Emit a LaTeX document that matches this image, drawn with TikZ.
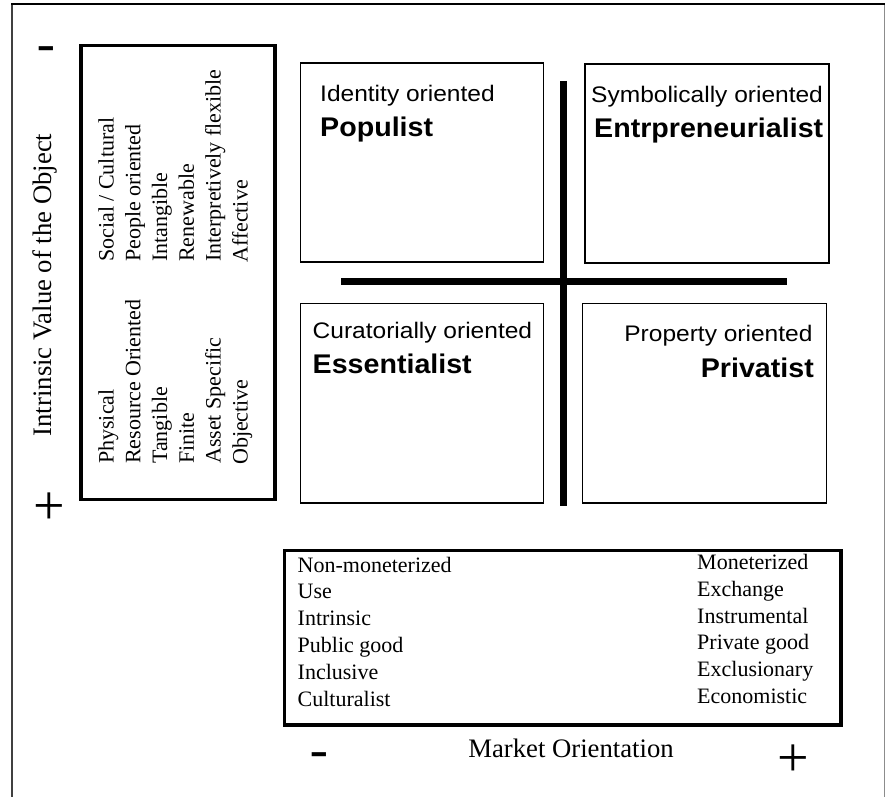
\documentclass[tikz,border=0pt]{standalone}
\usepackage{fontspec}
\usepackage{graphicx}
\setmainfont{Liberation Serif}
\newfontfamily\arialf{Liberation Sans}
\begin{document}
\begin{tikzpicture}[x=1pt,y=-1pt,
  serifA/.style={font=\fontsize{22}{22}\selectfont, inner sep=0pt, anchor=base west},
  rotlabel/.style={serifA, rotate=90},
  axislabel/.style={font=\fontsize{26.7}{26.7}\selectfont, inner sep=0pt, anchor=base},
  qsub/.style={font=\arialf\fontsize{22.5}{22.5}\selectfont, inner sep=0pt},
  qtitle/.style={font=\arialf\bfseries\fontsize{27}{27}\selectfont, inner sep=0pt},
  qbox/.style={draw, line width=1.8pt},
  thickbox/.style={draw, line width=3.6pt},
  crossline/.style={line width=6.5pt},
  signminus/.style={font=\arialf\bfseries\fontsize{34}{34}\selectfont, inner sep=0pt, anchor=base},
  signplus/.style={font=\fontsize{56}{56}\selectfont, inner sep=0pt, anchor=base},
]
\useasboundingbox (0,0) rectangle (886,797);
\fill[white] (0,0) rectangle (886,797);
% outer frame (open at the bottom)
\draw[line width=1.6pt, black!75] (12,797) -- (12,4.5);
\draw[line width=1.2pt, black!45] (884.5,4.5) -- (884.5,797);
\draw[line width=2pt] (11.2,4.5) -- (885,4.5);

% left box
\draw[thickbox] (81,45.5) rectangle (275,499.5);
% quadrant boxes
\draw[qbox] (300.5,63) rectangle (543.5,262);
\draw[qbox] (585,64) rectangle (829,263);
\draw[qbox] (300.5,303.5) rectangle (543.5,503);
\draw[qbox] (582.5,303.5) rectangle (826.5,503);
% cross
\coordinate (vtop) at (563.5,81);
\coordinate (vbot) at (563.5,506);
\coordinate (hleft) at (341,281.5);
\coordinate (hright) at (787,281.5);
\draw[crossline] (vtop) -- (vbot);
\draw[crossline] (hleft) -- (hright);
% bottom box
\draw[thickbox] (284.5,550.5) rectangle (841,725);

% vertical axis label
\node[axislabel, rotate=90] (yaxis) at (51.8,285) {Intrinsic Value of the Object};
\node[signminus] (ymin) at (46,57.7) {\scalebox{1.65}[1]{-}};
\node[signplus] (yplus) at (49,524.2) {+};

% left box texts (upper group)
\node[rotlabel] (l1) at (113.5,262) {Social / Cultural};
\node[rotlabel] (l2) at (140.3,262) {People oriented};
\node[rotlabel] (l3) at (167.1,262) {Intangible};
\node[rotlabel] (l4) at (193.9,262) {Renewable};
\node[rotlabel] (l5) at (220.7,262) {Interpretively flexible};
\node[rotlabel] (l6) at (247.5,263) {Affective};
% left box texts (lower group)
\node[rotlabel] (m1) at (113.5,464) {Physical};
\node[rotlabel] (m2) at (140.3,464) {Resource Oriented};
\node[rotlabel] (m3) at (167.1,464) {Tangible};
\node[rotlabel] (m4) at (193.9,464) {Finite};
\node[rotlabel] (m5) at (220.7,464) {Asset Specific};
\node[rotlabel] (m6) at (247.5,465) {Objective};

% quadrant texts
\node[qsub, anchor=base west] (q1a) at (320,102) {\scalebox{1.09}[1]{Identity oriented}};
\node[qtitle, anchor=base west] (q1b) at (320,137) {\scalebox{1.06}[1]{Populist}};
\node[qsub, anchor=base west] (q2a) at (591,103) {\scalebox{1.09}[1]{Symbolically oriented}};
\node[qtitle, anchor=base west] (q2b) at (594,137.3) {\scalebox{1.06}[1]{Entrpreneurialist}};
\node[qsub, anchor=base west] (q3a) at (312.5,338.3) {\scalebox{1.09}[1]{Curatorially oriented}};
\node[qtitle, anchor=base west] (q3b) at (312.5,373.3) {\scalebox{1.06}[1]{Essentialist}};
\node[qsub, anchor=base east] (q4a) at (812.7,341.7) {\scalebox{1.09}[1]{Property oriented}};
\node[qtitle, anchor=base east] (q4b) at (814,377.3) {\scalebox{1.06}[1]{Privatist}};

% bottom box texts
\node[serifA] (b1) at (297.5,572) {Non-moneterized};
\node[serifA] (b2) at (297.5,598.8) {Use};
\node[serifA] (b3) at (297.5,625.6) {Intrinsic};
\node[serifA] (b4) at (297.5,652.4) {Public good};
\node[serifA] (b5) at (297.5,679.2) {Inclusive};
\node[serifA] (b6) at (297.5,706) {Culturalist};
\node[serifA] (c1) at (697,569.5) {Moneterized};
\node[serifA] (c2) at (697,596.3) {Exchange};
\node[serifA] (c3) at (697,623.1) {Instrumental};
\node[serifA] (c4) at (697,649.9) {Private good};
\node[serifA] (c5) at (697,676.7) {Exclusionary};
\node[serifA] (c6) at (697,703.5) {Economistic};

% horizontal axis label
\node[axislabel] (xaxis) at (571,757) {Market Orientation};
\node[signminus] (xmin) at (319,763.7) {\scalebox{1.65}[1]{-}};
\node[signplus] (xplus) at (793,776.7) {+};
\end{tikzpicture}
\end{document}
